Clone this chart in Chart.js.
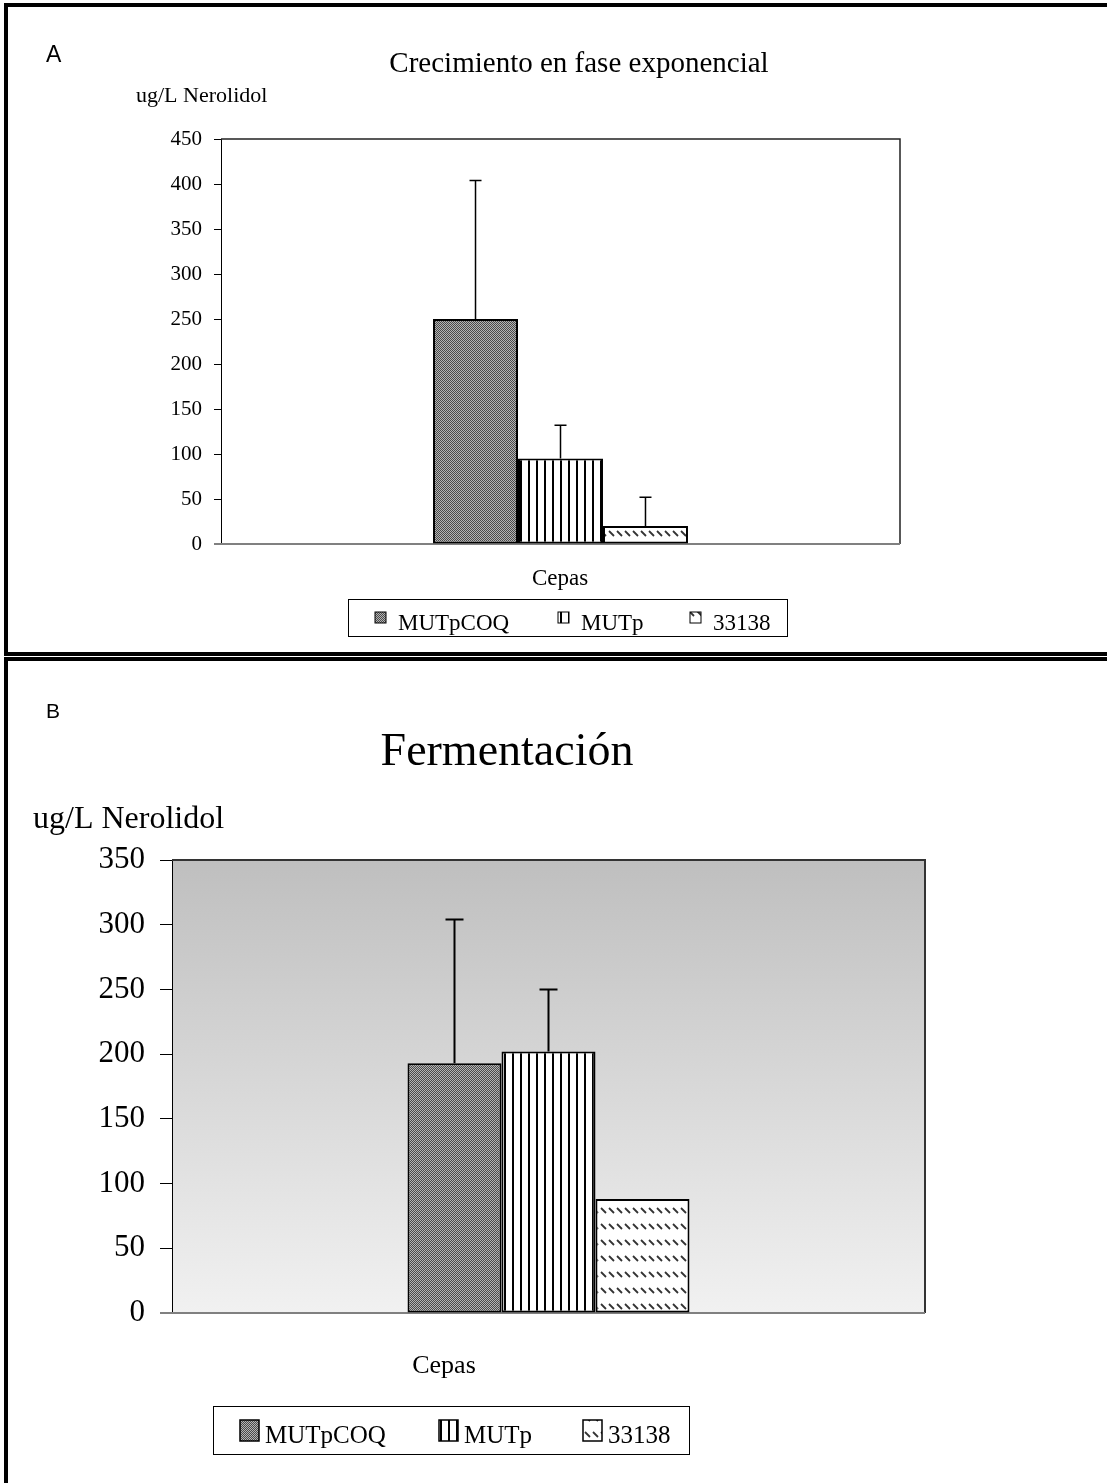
<!DOCTYPE html>
<html>
<head>
<meta charset="utf-8">
<script src="https://cdn.jsdelivr.net/npm/chart.js@4.4.1/dist/chart.umd.min.js"></script>
<style>
  body { margin: 0; background: #fff; }
  #pagina { position: relative; width: 1107px; height: 1483px; overflow: hidden; background: #fff; }
  canvas { position: absolute; left: 0; }
  .linea { position: absolute; background: #000; }
</style>
</head>
<body>
<div id="pagina">
  <canvas id="graficoA" width="1107" height="651" style="top:0"></canvas>
  <canvas id="graficoB" width="1107" height="822" style="top:661px"></canvas>
  <div class="linea" style="left:4px;top:3px;width:1103px;height:4px"></div>
  <div class="linea" style="left:4px;top:3px;width:4px;height:652px"></div>
  <div class="linea" style="left:4px;top:652px;width:1103px;height:4px"></div>
  <div class="linea" style="left:4px;top:657px;width:1103px;height:4px"></div>
  <div class="linea" style="left:4px;top:657px;width:4px;height:826px"></div>
</div>
<script>
// datos
var cepas = ['MUTpCOQ', 'MUTp', '33138'];

var valoresA = [250, 95, 20];
var erroresA = [154, 37, 32];
var ticksA = [0, 50, 100, 150, 200, 250, 300, 350, 400, 450];

var valoresB = [193, 202, 88];
var erroresB = [111, 48, 0];
var ticksB = [0, 50, 100, 150, 200, 250, 300, 350];

var SERIF = "'Liberation Serif', 'Times New Roman', serif";
var SANS = "'Liberation Sans', Arial, sans-serif";

// tramas de relleno
function trama(ctx, ancho, alto, dibujar) {
    var c = document.createElement('canvas');
    c.width = ancho;
    c.height = alto;
    var x = c.getContext('2d');
    x.fillStyle = '#fff';
    x.fillRect(0, 0, ancho, alto);
    dibujar(x);
    return ctx.createPattern(c, 'repeat');
}

function crearTramas(ctx) {
    var cuadros = trama(ctx, 2, 2, function (x) {
        x.fillStyle = '#b4b4b4';
        x.fillRect(0, 0, 2, 2);
        x.fillStyle = '#4a4a4a';
        x.fillRect(0, 0, 1, 1);
        x.fillRect(1, 1, 1, 1);
    });
    var verticales = trama(ctx, 8, 8, function (x) {
        x.fillStyle = '#000';
        x.fillRect(0, 0, 2, 8);
    });
    var diagonales = trama(ctx, 8, 16, function (x) {
        x.strokeStyle = '#333';
        x.lineWidth = 1.8;
        x.beginPath();
        x.moveTo(1, 3);
        x.lineTo(6, 8);
        x.stroke();
    });
    return [cuadros, verticales, diagonales];
}

// fondo y marco del area de trazado, barras de error, textos y leyenda
var pluginMarco = {
    id: 'marco',
    beforeDraw: function (chart, args, o) {
        var a = chart.chartArea, ctx = chart.ctx;
        ctx.save();
        if (o.degradado) {
            var g = ctx.createLinearGradient(0, a.top, 0, a.bottom);
            g.addColorStop(0, '#bfbfbf');
            g.addColorStop(1, '#f1f1f1');
            ctx.fillStyle = g;
        } else {
            ctx.fillStyle = '#fff';
        }
        ctx.fillRect(a.left, a.top, a.right - a.left, a.bottom - a.top);
        ctx.restore();
    },
    beforeDatasetsDraw: function (chart, args, o) {
        var a = chart.chartArea, ctx = chart.ctx;
        ctx.save();
        ctx.strokeStyle = o.colorMarco;
        ctx.lineWidth = o.grosor;
        ctx.beginPath();
        ctx.moveTo(a.left, a.top);
        ctx.lineTo(a.right, a.top);
        ctx.lineTo(a.right, a.bottom);
        ctx.stroke();
        ctx.strokeStyle = '#808080';
        ctx.lineWidth = 2;
        ctx.beginPath();
        ctx.moveTo(a.left - o.tick, a.bottom);
        ctx.lineTo(a.right, a.bottom);
        ctx.stroke();
        ctx.restore();
    },
    afterDatasetsDraw: function (chart, args, o) {
        // solo la mitad superior del error
        var ctx = chart.ctx, y = chart.scales.y;
        ctx.save();
        ctx.strokeStyle = '#000';
        ctx.lineWidth = o.grosorError;
        chart.data.datasets.forEach(function (ds, i) {
            var err = o.errores[i];
            if (!err) return;
            var barra = chart.getDatasetMeta(i).data[0];
            var yTop = y.getPixelForValue(ds.data[0] + err);
            ctx.beginPath();
            ctx.moveTo(barra.x, barra.y);
            ctx.lineTo(barra.x, yTop);
            ctx.moveTo(barra.x - o.tapa, yTop);
            ctx.lineTo(barra.x + o.tapa, yTop);
            ctx.stroke();
        });
        ctx.restore();
    },
    afterDraw: function (chart, args, o) {
        var ctx = chart.ctx;
        ctx.save();
        ctx.fillStyle = '#000';
        ctx.textBaseline = 'alphabetic';
        o.textos.forEach(function (t) {
            ctx.font = t.fuente;
            ctx.textAlign = t.alinear || 'left';
            ctx.fillText(t.texto, t.x, t.y);
        });
        var L = o.leyenda;
        ctx.strokeStyle = '#000';
        ctx.lineWidth = 1;
        ctx.strokeRect(L.x + 0.5, L.y + 0.5, L.ancho, L.alto);
        ctx.font = L.fuente;
        ctx.textAlign = 'left';
        chart.data.datasets.forEach(function (ds, i) {
            var sx = L.items[i];
            ctx.fillStyle = ds.backgroundColor;
            ctx.fillRect(sx, L.cuadroY, L.cuadroW, L.cuadroH);
            ctx.lineWidth = L.borde;
            ctx.strokeRect(sx, L.cuadroY, L.cuadroW, L.cuadroH);
            ctx.fillStyle = '#000';
            ctx.fillText(ds.label, sx + L.sep, L.base);
        });
        ctx.restore();
    }
};

function crearGrafico(id, valores, errores, ticks, cfg) {
    var canvas = document.getElementById(id);
    var ctx = canvas.getContext('2d');
    var tramas = crearTramas(ctx);
    return new Chart(ctx, {
        type: 'bar',
        data: {
            labels: ['Cepas'],
            datasets: cepas.map(function (nombre, i) {
                return {
                    label: nombre,
                    data: [valores[i]],
                    backgroundColor: tramas[i],
                    borderColor: '#000',
                    borderWidth: cfg.bordeBarra,
                    borderSkipped: false,
                    categoryPercentage: cfg.ancho,
                    barPercentage: 1
                };
            })
        },
        options: {
            responsive: false,
            animation: false,
            layout: { padding: cfg.padding },
            scales: {
                x: { display: false },
                y: {
                    min: ticks[0],
                    max: ticks[ticks.length - 1],
                    afterBuildTicks: function (s) {
                        s.ticks = ticks.map(function (v) { return { value: v }; });
                    },
                    afterFit: function (s) { s.width = cfg.anchoEje; },
                    ticks: {
                        color: '#000',
                        padding: cfg.sepTick,
                        font: { family: SERIF, size: cfg.fuenteTick }
                    },
                    grid: {
                        drawOnChartArea: false,
                        drawTicks: true,
                        tickLength: cfg.tick,
                        color: '#000'
                    },
                    border: { display: true, color: '#000', width: 1 }
                }
            },
            plugins: {
                legend: { display: false },
                tooltip: { enabled: false },
                marco: {
                    degradado: cfg.degradado,
                    colorMarco: cfg.colorMarco,
                    grosor: cfg.grosorMarco,
                    tick: cfg.tick,
                    errores: errores,
                    tapa: cfg.tapa,
                    grosorError: cfg.grosorError,
                    textos: cfg.textos,
                    leyenda: cfg.leyenda
                }
            }
        },
        plugins: [pluginMarco]
    });
}

crearGrafico('graficoA', valoresA, erroresA, ticksA, {
    padding: { left: 141, top: 139, right: 207, bottom: 107 },
    anchoEje: 80,
    ancho: 0.3755,
    bordeBarra: 2,
    sepTick: 12,
    fuenteTick: 21,
    tick: 7,
    degradado: false,
    colorMarco: '#222',
    grosorMarco: 1.5,
    tapa: 6,
    grosorError: 1.5,
    textos: [
        { texto: 'A', x: 46, y: 62, fuente: '23px ' + SANS },
        { texto: 'Crecimiento en fase exponencial', x: 579, y: 72, alinear: 'center', fuente: '29px ' + SERIF },
        { texto: 'ug/L Nerolidol', x: 136, y: 102, fuente: '22px ' + SERIF },
        { texto: 'Cepas', x: 560, y: 585, alinear: 'center', fuente: '23px ' + SERIF }
    ],
    leyenda: {
        x: 348, y: 599, ancho: 439, alto: 37,
        items: [375, 558, 690], cuadroY: 612, cuadroW: 11, cuadroH: 11,
        sep: 23, base: 630, borde: 1, fuente: '23px ' + SERIF
    }
});

crearGrafico('graficoB', valoresB, erroresB, ticksB, {
    padding: { left: 82, top: 199, right: 182, bottom: 170 },
    anchoEje: 90,
    ancho: 0.3745,
    bordeBarra: 2,
    sepTick: 15,
    fuenteTick: 31,
    tick: 12,
    degradado: true,
    colorMarco: '#333',
    grosorMarco: 2,
    tapa: 9,
    grosorError: 2,
    textos: [
        { texto: 'B', x: 46, y: 57, fuente: '21px ' + SANS },
        { texto: 'Fermentación', x: 507, y: 104, alinear: 'center', fuente: '46px ' + SERIF },
        { texto: 'ug/L Nerolidol', x: 33, y: 167, fuente: '32px ' + SERIF },
        { texto: 'Cepas', x: 444, y: 712, alinear: 'center', fuente: '26px ' + SERIF }
    ],
    leyenda: {
        x: 213, y: 745, ancho: 476, alto: 48,
        items: [240, 439, 583], cuadroY: 759, cuadroW: 19, cuadroH: 21,
        sep: 25, base: 782, borde: 1.5, fuente: '25px ' + SERIF
    }
});
</script>
</body>
</html>
